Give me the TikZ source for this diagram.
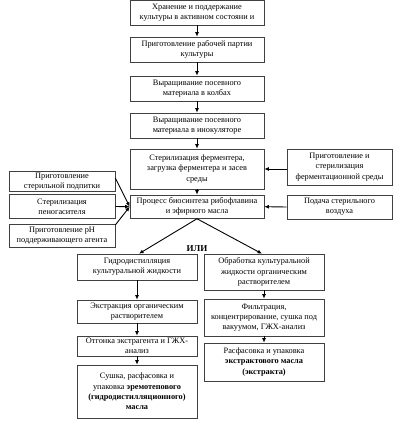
\documentclass[tikz,border=0pt]{standalone}
\usepackage{fontspec}
\setmainfont{Liberation Serif}
\usetikzlibrary{arrows.meta}
\begin{document}
\begin{tikzpicture}[x=1pt,y=-1pt,
  box/.style={draw=black!75, line width=0.6pt, align=center, inner sep=1pt,
    font=\fontsize{8.3}{10.3}\selectfont, anchor=center},
  arr/.style={draw=black, line width=0.9pt, -{Latex[length=4.5pt,width=4pt]}}]
\useasboundingbox (0,0) rectangle (417,428);
% main column
\node[box, minimum width=134pt, minimum height=25pt] (b1) at (197,12.7) {Хранение и поддержание\\культуры в активном состояни и};
\node[box, minimum width=134pt, minimum height=25pt] (b2) at (197,49.5) {Приготовление рабочей партии\\культуры};
\node[box, minimum width=134pt, minimum height=25pt] (b3) at (197,88.5) {Выращивание посевного\\материала в колбах};
\node[box, minimum width=134pt, minimum height=25pt] (b4) at (197,125.5) {Выращивание посевного\\материала в инокуляторе};
\node[box, minimum width=134pt, minimum height=40pt] (b5) at (197,169) {Стерилизация ферментера,\\загрузка ферментера и засев\\среды};
\node[box, minimum width=134pt, minimum height=23.5pt] (b6) at (197,206.7) {Процесс биосинтеза рибофлавина\\и эфирного масла};
% left side
\node[box, minimum width=106pt, minimum height=17.5pt] (l1) at (62,181.5) {Приготовление\\стерильной подпитки};
\node[box, minimum width=106pt, minimum height=24pt] (l2) at (62,206.5) {Стерилизация\\пеногасителя};
\node[box, minimum width=106pt, minimum height=23pt] (l3) at (62,235.5) {Приготовление рН\\поддерживающего агента};
% right side
\node[box, minimum width=105pt, minimum height=36pt] (r1) at (339.5,167) {Приготовление и\\стерилизация\\ферментационной среды};
\node[box, minimum width=105pt, minimum height=24pt] (r2) at (339.5,207) {Подача стерильного\\воздуха};
% or
\node[font=\fontsize{9}{10}\selectfont\bfseries, inner sep=0pt] (or) at (197,248.5) {ИЛИ};
% lower left column
\node[box, minimum width=120pt, minimum height=26pt] (a1) at (137,267) {Гидродистилляция\\культуральной жидкости};
\node[box, minimum width=120pt, minimum height=23pt] (a2) at (137,311.5) {Экстракция органическим\\растворителем};
\node[box, minimum width=120pt, minimum height=20pt] (a3) at (137,346) {Отгонка экстрагента и ГЖХ-\\анализ};
\node[box, minimum width=120pt, minimum height=53pt] (a4) at (137,391.5) {Сушка, расфасовка и\\упаковка \textbf{эремотепового}\\\textbf{(гидродистилляционного)}\\\textbf{масла}};
% lower right column
\node[box, minimum width=120pt, minimum height=36pt] (c1) at (264,272) {Обработка культуральной\\жидкости органическим\\растворителем};
\node[box, minimum width=120pt, minimum height=37pt] (c2) at (264,317.5) {Фильтрация,\\концентрирование, сушка под\\вакуумом, ГЖХ-анализ};
\node[box, minimum width=120pt, minimum height=38pt] (c3) at (264,362) {Расфасовка и упаковка\\\textbf{экстрактового масла}\\\textbf{(экстракта)}};
% arrows
\draw[arr] (b1) -- (b2);
\draw[arr] (b2) -- (b3);
\draw[arr] (b3) -- (b4);
\draw[arr] (b4) -- (b5);
\draw[arr] (b5) -- (b6);
\draw[arr] (l1.east |- 0,178) -- (b6.west);
\draw[arr] (l2.east) -- (b6.west);
\draw[arr] (l3.east |- 0,225) -- (b6.west);
\draw[arr] (r1.west |- b5.east) -- (b5.east);
\draw[arr] (r2.west) -- (b6.east);
\draw[arr] (b6.south) -- ([xshift=2pt]a1.north);
\draw[arr] (b6.south) -- ([xshift=-2pt]c1.north);
\draw[arr] (a1) -- (a2);
\draw[arr] (a2) -- (a3);
\draw[arr] (a3) -- (a4);
\draw[arr] (c1) -- (c2);
\draw[arr] (c2) -- (c3);
\end{tikzpicture}
\end{document}
